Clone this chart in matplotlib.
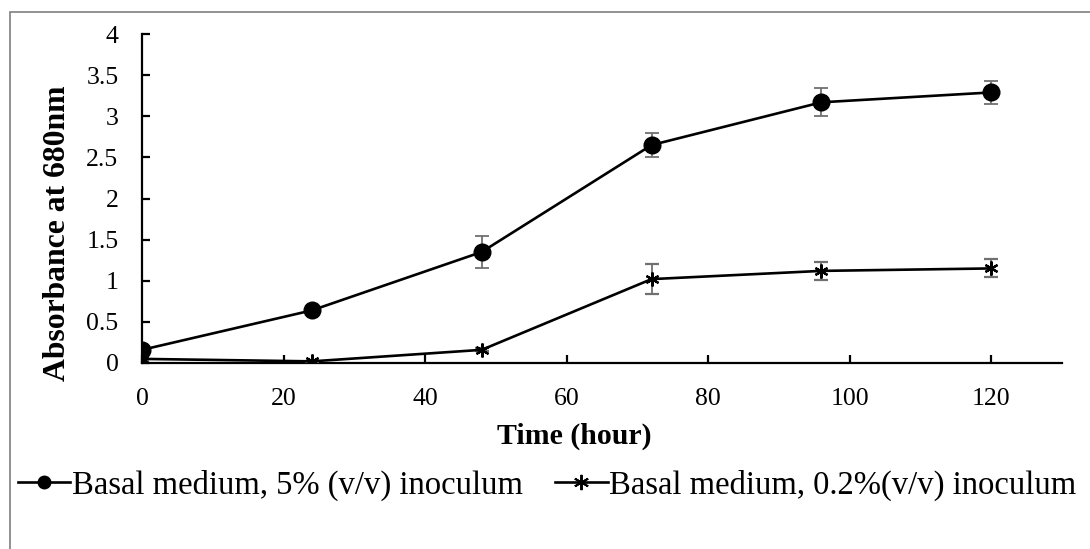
import matplotlib.pyplot as plt
from matplotlib.lines import Line2D
from matplotlib.patches import Rectangle

plt.rcParams['font.family'] = ['Liberation Serif', 'DejaVu Serif']

hours = [0, 24, 48, 72, 96, 120]
abs_5pct = [0.16, 0.64, 1.35, 2.65, 3.17, 3.29]
err_5pct = [0.02, 0.05, 0.19, 0.15, 0.17, 0.14]
abs_02pct = [0.05, 0.02, 0.16, 1.02, 1.12, 1.15]
err_02pct = [0.01, 0.01, 0.02, 0.18, 0.11, 0.11]

labels = ["Basal medium, 5% (v/v) inoculum", "Basal medium, 0.2%(v/v) inoculum"]
star = (6, 2, 0)

fig = plt.figure(figsize=(10.9, 5.49), dpi=100)
ax = fig.add_axes([0.1303, 0.3388, 0.844, 0.5992])

# outer grey frame (cut off at right and bottom)
fig.patches.append(Rectangle((10 / 1090, -0.1), 1.2, 1 - 12 / 549 + 0.1,
                             transform=fig.transFigure, fill=False,
                             edgecolor='#7f7f7f', linewidth=1.2))

ax.errorbar(hours, abs_5pct, yerr=err_5pct, color='black', marker='o',
            markersize=12, linewidth=1.9, ecolor='#707070', elinewidth=1.3,
            capsize=5, capthick=1.3, zorder=3)
ax.errorbar(hours, abs_02pct, yerr=err_02pct, color='black', marker=star,
            markersize=10, markeredgewidth=1.6, linewidth=1.9, ecolor='#707070',
            elinewidth=1.3, capsize=5, capthick=1.3, zorder=3)

ax.set_xlim(0, 130)
ax.set_ylim(0, 4)
ax.set_xticks(range(0, 121, 20))
ax.set_yticks([0, 0.5, 1, 1.5, 2, 2.5, 3, 3.5, 4])
ax.set_yticklabels(['0', '0.5', '1', '1.5', '2', '2.5', '3', '3.5', '4'])
ax.spines['top'].set_visible(False)
ax.spines['right'].set_visible(False)
for s in ['left', 'bottom']:
    ax.spines[s].set_linewidth(1.6)
ax.tick_params(direction='in', length=6, width=1.6, labelsize=18.5)
ax.tick_params(axis='x', pad=18)
ax.tick_params(axis='y', pad=17)
ax.set_xlabel("Time (hour)", fontsize=21.5, fontweight='bold')
ax.xaxis.set_label_coords(0.47, -0.222, transform=ax.transAxes)
ax.xaxis.label.set_va('center')
ax.set_ylabel("Absorbance at 680nm", fontsize=22.8, fontweight='bold')
ax.yaxis.set_label_coords(-0.092, 0.395, transform=ax.transAxes)
ax.yaxis.label.set_va('center')

handles = [
    Line2D([], [], color='black', marker='o', markersize=9, linewidth=1.9),
    Line2D([], [], color='black', marker=star, markersize=11,
           markeredgewidth=1.4, linewidth=1.9),
]
fig.legend(handles, labels, loc='center', bbox_to_anchor=(0.502, 0.116), ncol=2,
           frameon=False, fontsize=23.5, handlelength=1.6, handletextpad=0.05,
           columnspacing=1.0, borderaxespad=0)

fig.savefig("out.png", dpi=100)
